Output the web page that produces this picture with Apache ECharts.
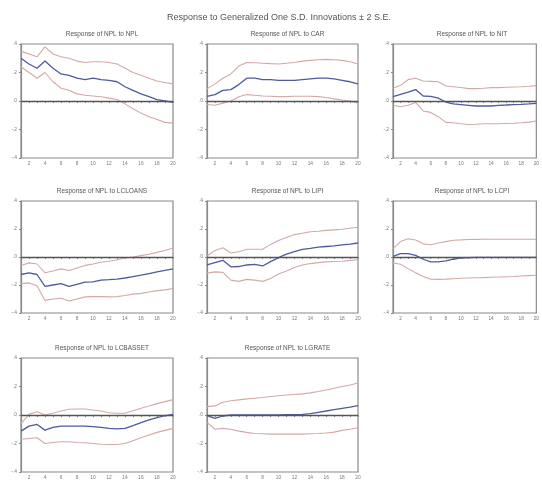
<!DOCTYPE html>
<html>
<head>
<meta charset="utf-8">
<script src="https://cdn.jsdelivr.net/npm/echarts@6/dist/echarts.min.js"></script>
<style>
html,body{margin:0;padding:0;background:#fff;}
#c{width:542px;height:482px;}
</style>
</head>
<body>
<div id="c"></div>
<script>
const periods = ['1','2','3','4','5','6','7','8','9','10','11','12','13','14','15','16','17','18','19','20'];
const mainTitle = 'Response to Generalized One S.D. Innovations \u00b1 2 S.E.';
const panelTitles = [
  'Response of NPL to NPL', 'Response of NPL to CAR', 'Response of NPL to NIT',
  'Response of NPL to LCLOANS', 'Response of NPL to LIPI', 'Response of NPL to LCPI',
  'Response of NPL to LCBASSET', 'Response of NPL to LGRATE'
];
const yTicks = [-0.4, -0.2, 0, 0.2, 0.4];

// NPL
const nplMid = [0.30,0.26,0.23,0.28,0.23,0.19,0.18,0.16,0.15,0.16,0.15,0.145,0.135,0.10,0.075,0.05,0.03,0.01,0.0,-0.01];
const nplUp  = [0.35,0.33,0.31,0.38,0.33,0.31,0.30,0.28,0.27,0.275,0.275,0.27,0.26,0.23,0.20,0.18,0.16,0.14,0.13,0.12];
const nplLo  = [0.24,0.20,0.16,0.20,0.135,0.09,0.075,0.05,0.04,0.035,0.03,0.02,0.01,-0.02,-0.055,-0.085,-0.11,-0.13,-0.15,-0.155];
// CAR
const carMid = [0.033,0.045,0.075,0.08,0.115,0.16,0.16,0.15,0.15,0.145,0.145,0.145,0.15,0.155,0.16,0.16,0.155,0.145,0.135,0.12];
const carUp  = [0.085,0.12,0.16,0.19,0.245,0.27,0.268,0.265,0.262,0.26,0.265,0.27,0.28,0.285,0.29,0.292,0.29,0.285,0.275,0.26];
const carLo  = [-0.025,-0.03,-0.015,0.0,0.03,0.045,0.04,0.035,0.033,0.031,0.031,0.033,0.033,0.033,0.031,0.025,0.015,0.007,0.0,-0.015];
// NIT
const nitMid = [0.03,0.047,0.063,0.08,0.035,0.033,0.02,-0.007,-0.02,-0.025,-0.03,-0.035,-0.035,-0.035,-0.03,-0.028,-0.025,-0.023,-0.02,-0.016];
const nitUp  = [0.09,0.11,0.15,0.16,0.14,0.138,0.135,0.105,0.10,0.095,0.087,0.087,0.09,0.094,0.094,0.096,0.098,0.10,0.103,0.108];
const nitLo  = [-0.03,-0.04,-0.03,-0.01,-0.07,-0.08,-0.11,-0.15,-0.153,-0.16,-0.165,-0.163,-0.16,-0.16,-0.16,-0.158,-0.156,-0.153,-0.148,-0.14];
// LCLOANS
const lclMid = [-0.125,-0.113,-0.125,-0.21,-0.2,-0.19,-0.21,-0.195,-0.18,-0.178,-0.165,-0.162,-0.158,-0.15,-0.14,-0.13,-0.118,-0.106,-0.096,-0.085];
const lclUp  = [-0.06,-0.042,-0.05,-0.113,-0.10,-0.085,-0.096,-0.078,-0.06,-0.05,-0.037,-0.03,-0.02,-0.007,0.0,0.01,0.02,0.033,0.047,0.064];
const lclLo  = [-0.19,-0.185,-0.205,-0.31,-0.30,-0.295,-0.315,-0.30,-0.285,-0.283,-0.283,-0.285,-0.283,-0.275,-0.265,-0.26,-0.25,-0.24,-0.235,-0.225];
// LIPI
const lipMid = [-0.057,-0.04,-0.024,-0.07,-0.068,-0.057,-0.052,-0.064,-0.033,-0.005,0.02,0.038,0.055,0.062,0.07,0.075,0.08,0.086,0.092,0.10];
const lipUp  = [0.007,0.047,0.066,0.028,0.038,0.055,0.055,0.055,0.09,0.118,0.14,0.16,0.17,0.18,0.184,0.19,0.194,0.198,0.205,0.212];
const lipLo  = [-0.115,-0.106,-0.11,-0.165,-0.174,-0.16,-0.165,-0.174,-0.153,-0.122,-0.10,-0.075,-0.057,-0.047,-0.04,-0.035,-0.032,-0.03,-0.024,-0.02];
// LCPI
const lcpMid = [0.005,0.024,0.024,0.012,-0.016,-0.035,-0.035,-0.028,-0.016,-0.007,-0.005,-0.003,-0.003,-0.002,-0.002,-0.002,-0.002,-0.002,-0.002,-0.002];
const lcpUp  = [0.06,0.11,0.13,0.122,0.094,0.087,0.10,0.11,0.12,0.122,0.125,0.126,0.127,0.127,0.127,0.127,0.127,0.127,0.127,0.127];
const lcpLo  = [-0.042,-0.052,-0.083,-0.113,-0.14,-0.158,-0.16,-0.158,-0.155,-0.152,-0.15,-0.148,-0.147,-0.145,-0.143,-0.141,-0.139,-0.136,-0.133,-0.13];
// LCBASSET
const lcbMid = [-0.113,-0.078,-0.066,-0.106,-0.087,-0.078,-0.078,-0.078,-0.078,-0.082,-0.087,-0.094,-0.098,-0.094,-0.075,-0.054,-0.035,-0.019,-0.005,0.005];
const lcbUp  = [-0.06,0.005,0.023,0.0,0.012,0.028,0.04,0.042,0.042,0.035,0.028,0.016,0.012,0.012,0.03,0.047,0.063,0.08,0.094,0.108];
const lcbLo  = [-0.17,-0.165,-0.16,-0.20,-0.193,-0.188,-0.188,-0.193,-0.195,-0.20,-0.205,-0.207,-0.207,-0.20,-0.18,-0.16,-0.141,-0.122,-0.108,-0.094];
// LGRATE
const lgrMid = [-0.005,-0.024,-0.007,0.0,0.0,0.0,0.0,0.0,0.0,0.0,0.002,0.003,0.005,0.01,0.019,0.028,0.038,0.047,0.056,0.066];
const lgrUp  = [0.059,0.064,0.09,0.10,0.106,0.113,0.118,0.123,0.13,0.135,0.14,0.144,0.148,0.155,0.165,0.176,0.188,0.20,0.21,0.224];
const lgrLo  = [-0.052,-0.10,-0.094,-0.10,-0.113,-0.122,-0.13,-0.132,-0.134,-0.134,-0.134,-0.134,-0.134,-0.132,-0.13,-0.126,-0.12,-0.108,-0.10,-0.09];

const panels = [
  [nplMid, nplUp, nplLo], [carMid, carUp, carLo], [nitMid, nitUp, nitLo],
  [lclMid, lclUp, lclLo], [lipMid, lipUp, lipLo], [lcpMid, lcpUp, lcpLo],
  [lcbMid, lcbUp, lcbLo], [lgrMid, lgrUp, lgrLo]
];

const colLeft = [21, 207, 393];
const colWidth = [152, 151, 148];
const rowTop = [44, 201, 358];
const rowHeight = [114, 112, 114];
const titleY = [30, 187, 344];

const grids = [], xAxes = [], yAxes = [], series = [], titles = [];
titles.push({text: mainTitle, left: 274, top: 8, textAlign: 'center',
  textStyle: {fontSize: 9, fontWeight: 'normal', color: '#555', fontFamily: 'Liberation Sans'}});

panels.forEach((p, i) => {
  const r = Math.floor(i / 3), c = i % 3;
  grids.push({left: colLeft[c], top: rowTop[r], width: colWidth[c], height: rowHeight[r],
    show: true, borderColor: '#8a8a8a', borderWidth: 1.2, backgroundColor: 'transparent'});
  titles.push({text: panelTitles[i], left: colLeft[c] + colWidth[c] / 2, top: titleY[r] - 4, textAlign: 'center',
    textStyle: {fontSize: 6.5, fontWeight: 'normal', color: '#555', fontFamily: 'Liberation Sans'}});
  xAxes.push({type: 'category', gridIndex: i, data: periods, boundaryGap: false,
    axisLine: {show: true, lineStyle: {color: '#8a8a8a', width: 1.2}},
    axisTick: {show: true, interval: 0, length: 2, lineStyle: {color: '#888'}},
    axisLabel: {fontSize: 4.8, color: '#777', margin: 3, interval: (idx) => idx % 2 === 1},
    splitLine: {show: false}});
  yAxes.push({type: 'value', gridIndex: i, min: -0.4, max: 0.4, interval: 0.2,
    axisLine: {show: true, lineStyle: {color: '#8a8a8a', width: 1.2}},
    axisTick: {show: true, length: 2, lineStyle: {color: '#888'}},
    axisLabel: {fontSize: 4.8, color: '#777', margin: 4,
      formatter: v => (v < -1e-9 ? '-' : '') + '.' + Math.round(Math.abs(v) * 10)},
    splitLine: {show: false}});
  const base = {type: 'line', xAxisIndex: i, yAxisIndex: i, showSymbol: false, symbol: 'none', silent: true, animation: false};
  series.push(Object.assign({}, base, {data: p[1], lineStyle: {color: '#d3a9a6', width: 1.1}}));
  series.push(Object.assign({}, base, {data: p[2], lineStyle: {color: '#d3a9a6', width: 1.1}}));
  series.push(Object.assign({}, base, {data: p[0], z: 3, lineStyle: {color: '#4f5a9e', width: 1.3},
    markLine: {silent: true, symbol: 'none', label: {show: false}, animation: false,
      lineStyle: {color: '#555', width: 1.3, type: 'solid'}, data: [{yAxis: 0}]}}));
});

const chart = echarts.init(document.getElementById('c'), null, {renderer: 'canvas'});
chart.setOption({backgroundColor: '#fff', animation: false, title: titles, grid: grids, xAxis: xAxes, yAxis: yAxes, series: series});
</script>
</body>
</html>
